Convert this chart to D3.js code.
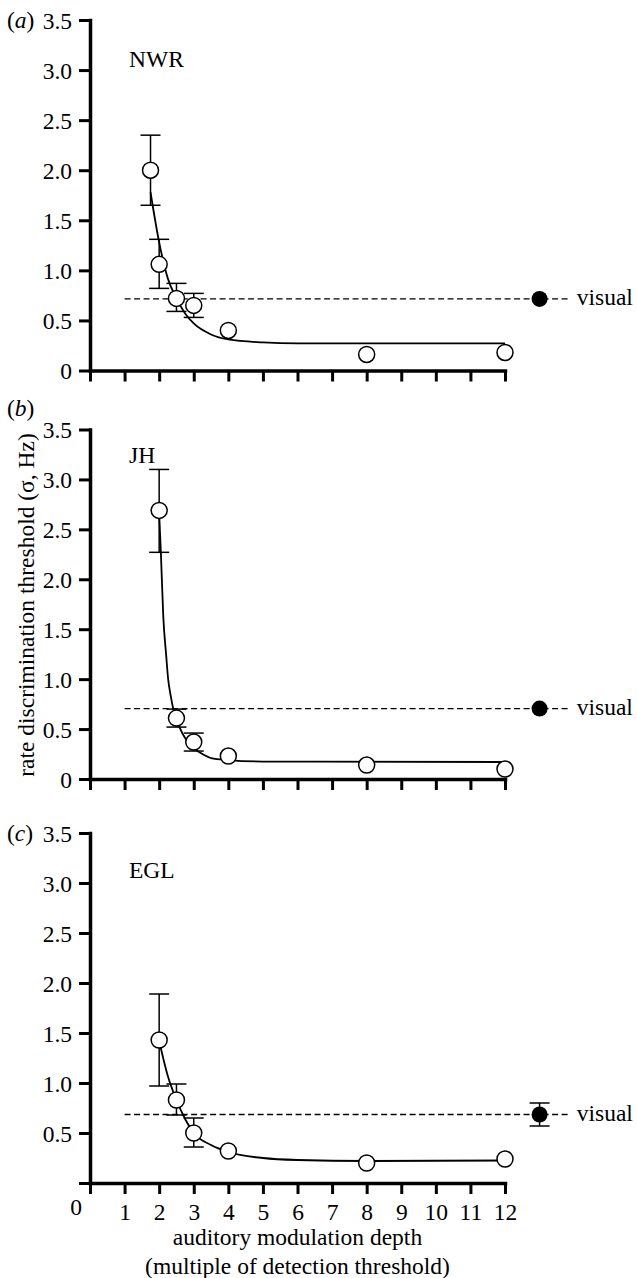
<!DOCTYPE html>
<html><head><meta charset="utf-8">
<script src="https://cdn.jsdelivr.net/npm/d3@7"></script>
<style>
body{margin:0;background:#fff}
svg text{font-family:"Liberation Serif","Times New Roman",Times,serif;fill:#000}
</style>
</head><body>
<svg id="chart" width="637" height="1278"></svg>
<script>
// ---------- data ----------
const xTickValues = [0,1,2,3,4,5,6,7,8,9,10,11,12];
const xTickLabels = ["0","1","2","3","4","5","6","7","8","9","10","11","12"];
const yTickValues = [0,0.5,1,1.5,2,2.5,3,3.5];
const yTickLabels = ["0","0.5","1.0","1.5","2.0","2.5","3.0","3.5"];
const panelLetters = ["a","b","c"];
const subjects = ["NWR","JH","EGL"];

// panel (a) NWR
const depthA = [1.75, 2, 2.5, 3, 4, 8, 12];
const threshA = [2.00, 1.06, 0.72, 0.65, 0.40, 0.16, 0.18];
const errHiA = [2.35, 1.31, 0.87, 0.77, null, null, null];
const errLoA = [1.65, 0.82, 0.59, 0.53, null, null, null];
const fitXA = [1.75, 2, 2.25, 2.5, 2.75, 3, 3.5, 4, 5, 6, 8, 12];
const fitYA = [1.78, 1.28, 0.92, 0.72, 0.57, 0.47, 0.36, 0.31, 0.28, 0.27, 0.27, 0.27];
const visualA = 0.715, visualHiA = null, visualLoA = null;

// panel (b) JH
const depthB = [2, 2.5, 3, 4, 8, 12];
const threshB = [2.69, 0.61, 0.37, 0.23, 0.14, 0.10];
const errHiB = [3.10, 0.70, 0.46, null, null, null];
const errLoB = [2.27, 0.52, 0.28, null, null, null];
const fitXB = [2, 2.05, 2.12, 2.2, 2.26, 2.33, 2.41, 2.5, 2.6, 2.75, 3, 3.25, 3.5, 4, 5, 12];
const fitYB = [2.66, 2.26, 1.62, 1.25, 1.0, 0.84, 0.70, 0.60, 0.51, 0.41, 0.31, 0.25, 0.21, 0.19, 0.175, 0.17];
const visualB = 0.705, visualHiB = null, visualLoB = null;

// panel (c) EGL
const depthC = [2, 2.5, 3, 4, 8, 12];
const threshC = [1.43, 0.83, 0.50, 0.32, 0.20, 0.24];
const errHiC = [1.89, 0.99, 0.65, null, null, null];
const errLoC = [0.97, 0.68, 0.36, null, null, null];
const fitXC = [2, 2.25, 2.5, 2.75, 3, 3.5, 4, 5, 6, 8, 12];
const fitYC = [1.42, 1.07, 0.83, 0.64, 0.50, 0.38, 0.31, 0.25, 0.23, 0.22, 0.225];
const visualC = 0.685, visualHiC = 0.80, visualLoC = 0.57;

const visualX = 13;
const dashStartX = 1;
const dashEndX = 13.9;

// ---------- layout ----------
const svg = d3.select("#chart");
const FS = 23.5;
const x = d3.scaleLinear().domain([0,12]).range([90,505]);

const panels = [
  {top:20,  bottom:370.5, letter:panelLetters[0], subj:subjects[0], subjDy:47,
   dx:depthA, dy:threshA, hi:errHiA, lo:errLoA, fx:fitXA, fy:fitYA, vis:visualA, visHi:visualHiA, visLo:visualLoA, letterY:0, xLabels:false, zeroLabel:true},
  {top:429.5, bottom:779, letter:panelLetters[1], subj:subjects[1], subjDy:33,
   dx:depthB, dy:threshB, hi:errHiB, lo:errLoB, fx:fitXB, fy:fitYB, vis:visualB, visHi:visualHiB, visLo:visualLoB, letterY:-22, xLabels:false, zeroLabel:true},
  {top:833, bottom:1183, letter:panelLetters[2], subj:subjects[2], subjDy:45,
   dx:depthC, dy:threshC, hi:errHiC, lo:errLoC, fx:fitXC, fy:fitYC, vis:visualC, visHi:visualHiC, visLo:visualLoC, letterY:0, xLabels:true, zeroLabel:false}
];

panels.forEach(p => {
  const y = d3.scaleLinear().domain([0,3.5]).range([p.bottom, p.top]);
  const g = svg.append("g");

  // y axis
  const yAxis = d3.axisLeft(y).tickValues(yTickValues).tickSize(11).tickSizeOuter(0)
    .tickPadding(7)
    .tickFormat((d,i) => (i===0 && !p.zeroLabel) ? "" : yTickLabels[i]);
  const ya = g.append("g").attr("transform", `translate(${x(0)},0)`).call(yAxis);
  ya.attr("font-family", null).attr("font-size", null);
  ya.select(".domain").attr("stroke","#000").attr("stroke-width",3.5).attr("stroke-linecap","square");
  ya.selectAll(".tick line").attr("stroke","#000").attr("stroke-width",3);
  ya.selectAll(".tick text").attr("font-size",FS).attr("fill","#000").attr("dy","0.34em");

  // x axis
  const xAxis = d3.axisBottom(x).tickValues(xTickValues).tickSize(11).tickSizeOuter(0)
    .tickPadding(9)
    .tickFormat((d,i) => (p.xLabels && i>0) ? xTickLabels[i] : "");
  const xa = g.append("g").attr("transform", `translate(0,${y(0)})`).call(xAxis);
  xa.attr("font-family", null).attr("font-size", null);
  xa.select(".domain").attr("stroke","#000").attr("stroke-width",3.5).attr("stroke-linecap","square");
  xa.selectAll(".tick line").attr("stroke","#000").attr("stroke-width",3);
  xa.selectAll(".tick text").attr("font-size",FS).attr("fill","#000");

  if (p.xLabels) {
    g.append("text").attr("x", x(0)-14).attr("y", y(0)+32).attr("text-anchor","middle")
      .attr("font-size",FS).text(xTickLabels[0]);
  }

  // panel letter
  const lt = g.append("text").attr("x", 7).attr("y", p.top + 8 + p.letterY).attr("font-size",FS);
  lt.append("tspan").text("(");
  lt.append("tspan").attr("font-style","italic").text(p.letter);
  lt.append("tspan").text(")");

  // subject label
  g.append("text").attr("x", 129).attr("y", p.top + p.subjDy).attr("font-size",FS).text(p.subj);

  // dashed visual line
  g.append("line").attr("x1", x(dashStartX)).attr("x2", x(dashEndX))
    .attr("y1", y(p.vis)).attr("y2", y(p.vis))
    .attr("stroke","#000").attr("stroke-width",1.3).attr("stroke-dasharray","6,3.5");

  // fit curve
  const line = d3.line().x(d => x(d[0])).y(d => y(d[1])).curve(d3.curveMonotoneX);
  g.append("path").datum(p.fx.map((v,i)=>[v,p.fy[i]])).attr("d", line)
    .attr("fill","none").attr("stroke","#000").attr("stroke-width",1.8);

  // error bars
  const cap = 10;
  p.dx.forEach((v,i) => {
    if (p.hi[i] == null) return;
    const cx = x(v);
    g.append("line").attr("x1",cx).attr("x2",cx).attr("y1",y(p.hi[i])).attr("y2",y(p.lo[i]))
      .attr("stroke","#000").attr("stroke-width",1.5);
    [p.hi[i], p.lo[i]].forEach(e => {
      g.append("line").attr("x1",cx-cap).attr("x2",cx+cap).attr("y1",y(e)).attr("y2",y(e))
        .attr("stroke","#000").attr("stroke-width",1.5);
    });
  });

  // points
  g.selectAll("circle.pt").data(p.dx.map((v,i)=>[v,p.dy[i]])).enter().append("circle")
    .attr("class","pt").attr("cx",d=>x(d[0])).attr("cy",d=>y(d[1])).attr("r",8)
    .attr("fill","#fff").attr("stroke","#000").attr("stroke-width",1.5);

  // visual marker
  const vx = x(visualX);
  if (p.visHi != null) {
    g.append("line").attr("x1",vx).attr("x2",vx).attr("y1",y(p.visHi)).attr("y2",y(p.visLo))
      .attr("stroke","#000").attr("stroke-width",1.5);
    [p.visHi, p.visLo].forEach(e => {
      g.append("line").attr("x1",vx-cap).attr("x2",vx+cap).attr("y1",y(e)).attr("y2",y(e))
        .attr("stroke","#000").attr("stroke-width",1.5);
    });
  }
  g.append("circle").attr("cx",vx).attr("cy",y(p.vis)).attr("r",8).attr("fill","#000");
  g.append("text").attr("x", x(dashEndX)+6).attr("y", y(p.vis)+6).attr("font-size",FS).text("visual");
});

// y axis title
svg.append("text").attr("transform","translate(34,605) rotate(-90)").attr("text-anchor","middle")
  .attr("font-size",FS).text("rate discrimination threshold (σ, Hz)");

// x axis title
svg.append("text").attr("x", 297.5).attr("y", 1245).attr("text-anchor","middle")
  .attr("font-size",FS).text("auditory modulation depth");
svg.append("text").attr("x", 297.5).attr("y", 1274).attr("text-anchor","middle")
  .attr("font-size",FS).text("(multiple of detection threshold)");
</script>
</body></html>
